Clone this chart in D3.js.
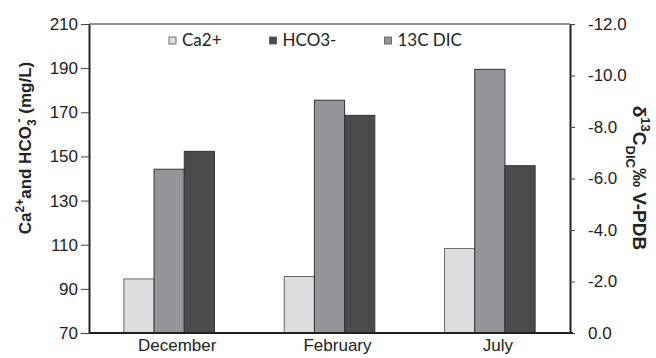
<!DOCTYPE html>
<html><head><meta charset="utf-8">
<script src="https://cdn.jsdelivr.net/npm/d3@7"></script>
<style>
html,body{margin:0;padding:0;background:#fff;}
svg{display:block;}
</style></head>
<body>
<svg id="chart" width="656" height="358"></svg>
<script>
const categories = ["December", "February", "July"];
const seriesOrder = ["Ca2+", "13C DIC", "HCO3-"];
const legendOrder = ["Ca2+", "HCO3-", "13C DIC"];
const caValues = [94.5, 95.6, 108.3];
const hco3Values = [152.3, 168.6, 145.8];
const dicValues = [-6.36, -9.04, -10.24];
const leftTicks = [70, 90, 110, 130, 150, 170, 190, 210];
const rightTicks = [0, -2, -4, -6, -8, -10, -12];

const colors = {"Ca2+": "#dcdddf", "13C DIC": "#939598", "HCO3-": "#4a4b4d"};
const valuesBySeries = {"Ca2+": caValues, "13C DIC": dicValues, "HCO3-": hco3Values};

const svg = d3.select("#chart");
const L = 89, R = 570, T = 24, B = 333;

const yLeft = d3.scaleLinear().domain([70, 210]).range([B, T]);
const yRight = d3.scaleLinear().domain([0, -12]).range([B, T]);
const x0 = d3.scaleBand().domain(categories).range([L, R]).padding(0);
const x1 = d3.scaleBand().domain(seriesOrder).range([0, x0.bandwidth()]).paddingInner(0).paddingOuter(1.155);

const yFor = s => s === "13C DIC" ? yRight : yLeft;

// bars
const data = [];
categories.forEach((c, i) => seriesOrder.forEach(s => data.push({c, s, v: valuesBySeries[s][i]})));
svg.append("g").selectAll("rect").data(data).join("rect")
  .attr("x", d => x0(d.c) + x1(d.s))
  .attr("width", x1.bandwidth())
  .attr("y", d => Math.min(yFor(d.s)(d.v), yFor(d.s).range()[0]))
  .attr("height", d => Math.abs(yFor(d.s).range()[0] - yFor(d.s)(d.v)))
  .attr("fill", d => colors[d.s])
  .attr("stroke", d => d.s === "Ca2+" ? "#6a6a6a" : "#333")
  .attr("stroke-width", 1);

// top border
svg.append("line").attr("x1", L).attr("x2", R).attr("y1", yLeft(210)).attr("y2", yLeft(210))
  .attr("stroke", "#222").attr("stroke-width", 1);

// left axis
const gl = svg.append("g").attr("transform", `translate(${L},0)`)
  .call(d3.axisLeft(yLeft).tickValues(leftTicks).tickSize(8).tickSizeOuter(0).tickPadding(3));
gl.select(".domain").attr("stroke", "#222").attr("stroke-width", 2);
gl.selectAll(".tick line").attr("stroke", "#444");
gl.selectAll(".tick text").attr("font-family", "Liberation Sans, Arial, sans-serif").attr("font-size", 17).attr("fill", "#222");

// right axis
const gr = svg.append("g").attr("transform", `translate(${R},0)`)
  .call(d3.axisRight(yRight).tickValues(rightTicks).tickSize(5).tickSizeOuter(0).tickPadding(13)
    .tickFormat(d => d.toFixed(1)));
gr.select(".domain").attr("stroke", "#222").attr("stroke-width", 2);
gr.selectAll(".tick line").attr("stroke", "#444");
gr.selectAll(".tick text").attr("font-family", "Liberation Sans, Arial, sans-serif").attr("font-size", 17).attr("fill", "#222");

// bottom axis
const gb = svg.append("g").attr("transform", `translate(0,${B})`)
  .call(d3.axisBottom(x0).tickSize(0).tickSizeOuter(0).tickPadding(6));
gb.select(".domain").attr("stroke", "#222").attr("stroke-width", 2).attr("d", `M${L},0H${R + 3}`);
gb.selectAll(".tick text").attr("font-family", "Liberation Sans, Arial, sans-serif").attr("font-size", 17)
  .attr("fill", "#222").attr("dx", 8);

// legend
const lg = svg.append("g").attr("transform", `translate(169,46)`);
let lx = 0;
legendOrder.forEach(s => {
  const g = lg.append("g").attr("transform", `translate(${lx},0)`);
  g.append("rect").attr("x", 0).attr("y", -9).attr("width", 7).attr("height", 7)
    .attr("fill", colors[s]).attr("stroke", "#555").attr("stroke-width", 0.8);
  const t = g.append("text").attr("x", 13).attr("y", 0).text(s)
    .attr("font-family", "Lato, Carlito, Calibri, sans-serif").attr("font-size", 17).attr("fill", "#222");
  lx += 13 + t.node().getComputedTextLength() + 48;
});

// left title
const lt = svg.append("text")
  .attr("transform", `translate(31,148) rotate(-90)`)
  .attr("text-anchor", "middle")
  .attr("font-family", "Liberation Sans, Arial, sans-serif").attr("font-weight", "bold")
  .attr("font-size", 17).attr("fill", "#222");
lt.append("tspan").text("Ca");
lt.append("tspan").attr("dy", -7).attr("font-size", 12).text("2+");
lt.append("tspan").attr("dy", 7).text("and HCO");
lt.append("tspan").attr("dy", 5).attr("font-size", 12).text("3");
lt.append("tspan").attr("dy", -13).attr("dx", -3).attr("font-size", 12).text("-");
lt.append("tspan").attr("dy", 8).text(" (mg/L)");

// right title
const rt = svg.append("text")
  .attr("transform", `translate(633,178) rotate(90)`)
  .attr("text-anchor", "middle")
  .attr("font-family", "Liberation Sans, Arial, sans-serif").attr("font-weight", "bold")
  .attr("font-size", 19).attr("fill", "#222");
rt.append("tspan").text("δ");
rt.append("tspan").attr("dy", -8).attr("font-size", 13).text("13");
rt.append("tspan").attr("dy", 8).text("C");
rt.append("tspan").attr("dy", 7).attr("font-size", 13).text("DIC");
rt.append("tspan").attr("dy", -7).text("‰ V-PDB");
</script>
</body></html>
